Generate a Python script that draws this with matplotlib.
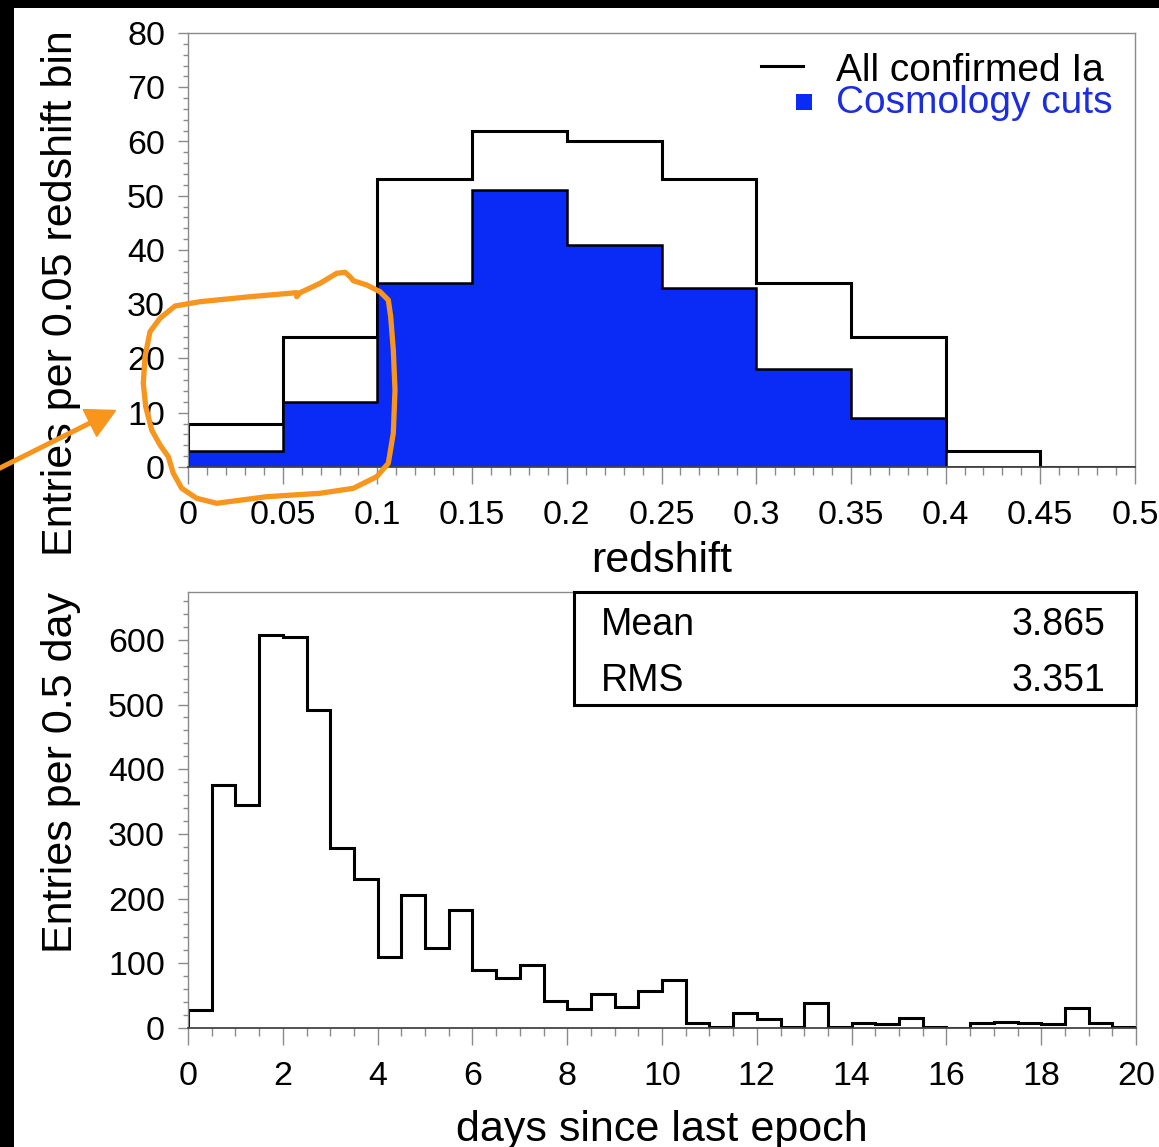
import matplotlib
matplotlib.use('Agg')
import matplotlib.pyplot as plt
import numpy as np
from matplotlib.lines import Line2D
from matplotlib.patches import Rectangle, Polygon
from matplotlib.transforms import Affine2D
from matplotlib.ticker import MultipleLocator, FuncFormatter

plt.rcParams['font.family'] = ['Liberation Sans', 'DejaVu Sans']

# redshift histogram (0.05 wide bins)
z_edges = [0.0, 0.05, 0.1, 0.15, 0.2, 0.25, 0.3, 0.35, 0.4, 0.45, 0.5]
all_ia = [8, 24, 53, 62, 60, 53, 34, 24, 3, 0]
cosmo_cuts = [3, 12, 34, 51, 41, 33, 18, 9, 0, 0]

# days since last epoch (0.5 day bins)
day_edges = np.arange(0, 20.01, 0.5)
day_counts = [28, 376, 345, 607, 604, 492, 278, 230, 109, 205,
              124, 182, 89, 78, 97, 42, 29, 53, 32, 57,
              74, 8, 1, 23, 14, 2, 39, 1, 7, 6,
              15, 1, 0, 8, 10, 8, 6, 31, 8, 1]
stat_names = ['Mean', 'RMS']
stat_values = ['3.865', '3.351']

W, H = 1159, 1147
BLUE = '#0a2af5'
ORANGE = '#f7951d'
GRAY = '#8a8a8a'

fig = plt.figure(figsize=(W / 100, H / 100), dpi=100, facecolor='black')
fig.patches.append(Rectangle((14 / W, 0), 1 - 14 / W, 1 - 8 / H,
                             transform=fig.transFigure, facecolor='white',
                             edgecolor='none', zorder=-10))

ax1 = fig.add_axes([188 / W, 1 - 467 / H, 947 / W, 434 / H])
ax2 = fig.add_axes([188 / W, 1 - 1028 / H, 948 / W, 436 / H])


def style_axes(ax):
    for side in ['left', 'top', 'right']:
        ax.spines[side].set_color(GRAY)
        ax.spines[side].set_linewidth(1.0)
    ax.spines['bottom'].set_color('#444444')
    ax.spines['bottom'].set_linewidth(1.3)
    ax.tick_params(which='both', direction='out', color=GRAY, width=1.0,
                   labelsize=24.5, labelcolor='black')
    ax.tick_params(axis='x', which='major', length=12.5, pad=11)
    ax.tick_params(axis='x', which='minor', length=5.5)
    ax.tick_params(axis='y', which='major', length=7.5, pad=9)
    ax.tick_params(axis='y', which='minor', length=3.5)
    ax.tick_params(top=False, right=False)
    ax.set_facecolor('white')


# top panel
ax1.stairs(all_ia, z_edges, color='black', linewidth=2.2)
ax1.stairs(cosmo_cuts, z_edges, fill=True, color=BLUE)
ax1.stairs(cosmo_cuts, z_edges, color='black', linewidth=1.8)
ax1.set_xlim(0, 0.5)
ax1.set_ylim(0, 80)
ax1.xaxis.set_major_locator(MultipleLocator(0.05))
ax1.xaxis.set_minor_locator(MultipleLocator(0.01))
ax1.yaxis.set_major_locator(MultipleLocator(10))
ax1.yaxis.set_minor_locator(MultipleLocator(2))
ax1.xaxis.set_major_formatter(FuncFormatter(lambda v, _: '%g' % round(v, 3)))
style_axes(ax1)
ax1.text(0.5, -0.242, 'redshift', transform=ax1.transAxes, fontsize=31,
         ha='center', va='baseline')
ax1.text(-0.134, 1.007, 'Entries per 0.05 redshift bin', transform=ax1.transAxes,
         fontsize=31, rotation=90, ha='center', va='top')

# legend drawn by hand, ROOT style
ax1.add_line(Line2D([0.605, 0.6494], [0.9247, 0.9247], transform=ax1.transAxes,
                    color='black', linewidth=2.2))
ax1.add_line(Line2D([0.6505], [0.8399], transform=ax1.transAxes, marker='s',
                    markersize=11.5, color=BLUE, markeredgewidth=0))
ax1.text(0.6843, 0.889, 'All confirmed Ia', transform=ax1.transAxes,
         fontsize=28, color='black', va='baseline')
ax1.text(0.6843, 0.815, 'Cosmology cuts', transform=ax1.transAxes,
         fontsize=28, color='#1a2ee0', va='baseline')

# bottom panel
ax2.stairs(day_counts, day_edges, color='black', linewidth=2.2)
ax2.set_xlim(0, 20)
ax2.set_ylim(0, 674)
ax2.xaxis.set_major_locator(MultipleLocator(2))
ax2.xaxis.set_minor_locator(MultipleLocator(0.5))
ax2.yaxis.set_major_locator(MultipleLocator(100))
ax2.yaxis.set_minor_locator(MultipleLocator(20))
style_axes(ax2)
ax2.text(0.5, -0.259, 'days since last epoch', transform=ax2.transAxes,
         fontsize=31, ha='center', va='baseline')
ax2.text(-0.134, 1.0, 'Entries per 0.5 day', transform=ax2.transAxes,
         fontsize=31, rotation=90, ha='center', va='top')

# statistics box
ax2.add_patch(Rectangle((0.4072, 0.7408), 1 - 0.4072, 1 - 0.7408,
                        transform=ax2.transAxes, facecolor='white',
                        edgecolor='black', linewidth=2.2, clip_on=False, zorder=5))
for name, value, yb in zip(stat_names, stat_values, [0.9014, 0.773]):
    ax2.text(0.4357, yb, name, transform=ax2.transAxes, fontsize=27,
             va='baseline', ha='left', zorder=6)
    ax2.text(0.9673, yb, value, transform=ax2.transAxes, fontsize=27,
             va='baseline', ha='right', zorder=6)

# orange hand drawn annotation (image pixel coordinates)
px = Affine2D().scale(1 / W, -1 / H).translate(0, 1) + fig.transFigure
loop = [(296.7, 296.7), (300, 292.7), (320, 283.3), (336.7, 273.3), (345, 272.3),
        (350, 276.7), (353.3, 280.7), (366.7, 285), (380, 291.7), (388.3, 300),
        (390.7, 316.7), (393.3, 350), (395, 390), (393.3, 433.3), (388.3, 463.3),
        (376.7, 476.7), (353.3, 488.3), (320, 493.3), (266.7, 496.7), (216.7, 503.3),
        (196.7, 498.3), (181.7, 488.3), (173.3, 473.3), (168.3, 456.7), (160, 445),
        (151.7, 430), (145.7, 406.7), (143.3, 383.3), (145, 356.7), (150, 331.7),
        (160, 318.3), (175, 306), (200, 301.7), (250, 296.7), (296.7, 292.7)]
lx, ly = zip(*loop)
fig.add_artist(Line2D(lx, ly, transform=px, color=ORANGE, linewidth=3.8,
                      solid_joinstyle='round', solid_capstyle='round'))
fig.add_artist(Line2D([0, 92], [468, 422], transform=px, color=ORANGE,
                      linewidth=3.6))
fig.add_artist(Polygon([(83.3, 409.6), (115.5, 410.5), (96.7, 436.4)], closed=True,
                       transform=px, facecolor=ORANGE, edgecolor=ORANGE))

fig.savefig('out.png', dpi=100, facecolor='black')
